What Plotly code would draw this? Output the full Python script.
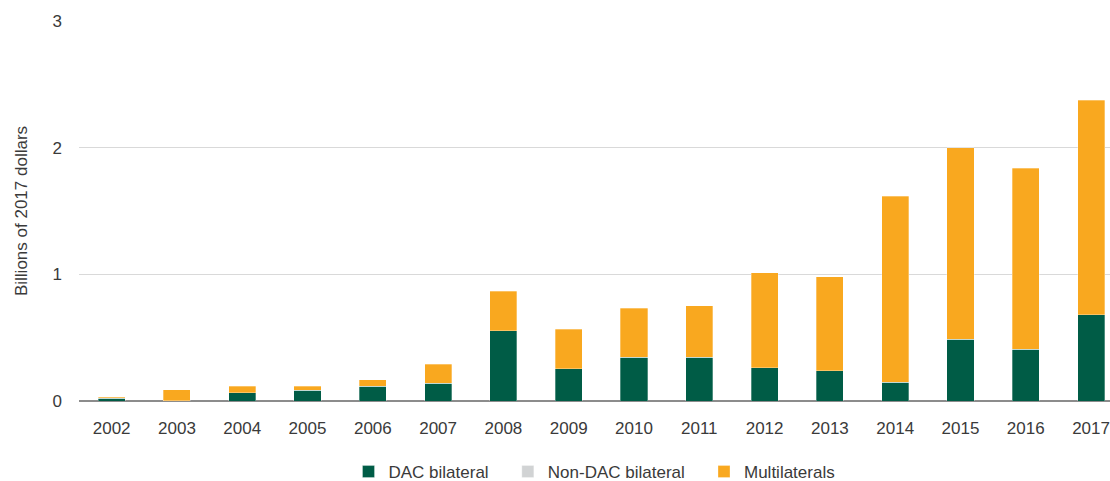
import plotly.graph_objects as go

years = ["2002", "2003", "2004", "2005", "2006", "2007", "2008", "2009",
         "2010", "2011", "2012", "2013", "2014", "2015", "2016", "2017"]
dac_bilateral = [0.02, 0.003, 0.066, 0.084, 0.116, 0.14, 0.555, 0.253,
                 0.345, 0.345, 0.263, 0.24, 0.147, 0.489, 0.408, 0.679]
non_dac_bilateral = [0.0, 0.0, 0.0, 0.0, 0.0, 0.0, 0.0, 0.0,
                     0.0, 0.0, 0.0, 0.0, 0.0, 0.0, 0.0, 0.0]
multilaterals = [0.01, 0.084, 0.052, 0.034, 0.052, 0.15, 0.313, 0.313,
                 0.387, 0.407, 0.75, 0.74, 1.47, 1.51, 1.43, 1.694]
y_ticks = [0, 1, 2, 3]

FONT = "Liberation Sans Narrow, Arial Narrow, Liberation Sans, sans-serif"
GREEN = "#005c46"
GREY = "#d1d3d4"
ORANGE = "#f9a81f"
PAD = "\u00a0" * 3

fig = go.Figure()
fig.add_trace(go.Bar(x=years, y=dac_bilateral, name="DAC bilateral" + PAD,
                     marker=dict(color=GREEN, line=dict(color="rgba(255,255,255,0.5)", width=0.6))))
fig.add_trace(go.Bar(x=years, y=non_dac_bilateral, name="Non-DAC bilateral" + PAD,
                     marker=dict(color=GREY, line=dict(color="rgba(255,255,255,0.5)", width=0.6))))
fig.add_trace(go.Bar(x=years, y=multilaterals, name="Multilaterals",
                     marker=dict(color=ORANGE, line=dict(color="rgba(255,255,255,0.5)", width=0.6))))

fig.update_layout(
    barmode="stack",
    bargap=0.585,
    width=1110, height=481,
    margin=dict(l=79, r=0, t=21, b=80),
    plot_bgcolor="white", paper_bgcolor="white",
    font=dict(family=FONT, size=17, color="#3a3a3a"),
    showlegend=True,
    legend=dict(orientation="h", x=0.5, xanchor="center",
                yref="container", y=9 / 481, yanchor="middle",
                font=dict(family=FONT, size=17, color="#3a3a3a"),
                traceorder="normal", itemwidth=30),
    xaxis=dict(type="category", range=[-0.5, 15.29], showgrid=False,
               ticks="", showline=False, tickfont=dict(size=17), ticklabelstandoff=15),
    yaxis=dict(range=[0, 3], tickvals=y_ticks, showgrid=True, gridcolor="#d9d9d9",
               gridwidth=1, zeroline=True, zerolinecolor="#8c8c8c", zerolinewidth=2,
               showline=False, ticks="", tickfont=dict(size=17), ticklabelstandoff=16,
               title=dict(text="Billions of 2017 dollars", font=dict(size=17), standoff=20)),
)

fig.write_html(
    "out.html",
    config={"displayModeBar": False},
    post_script="document.body.style.margin='0';document.body.style.overflow='hidden';",
)
